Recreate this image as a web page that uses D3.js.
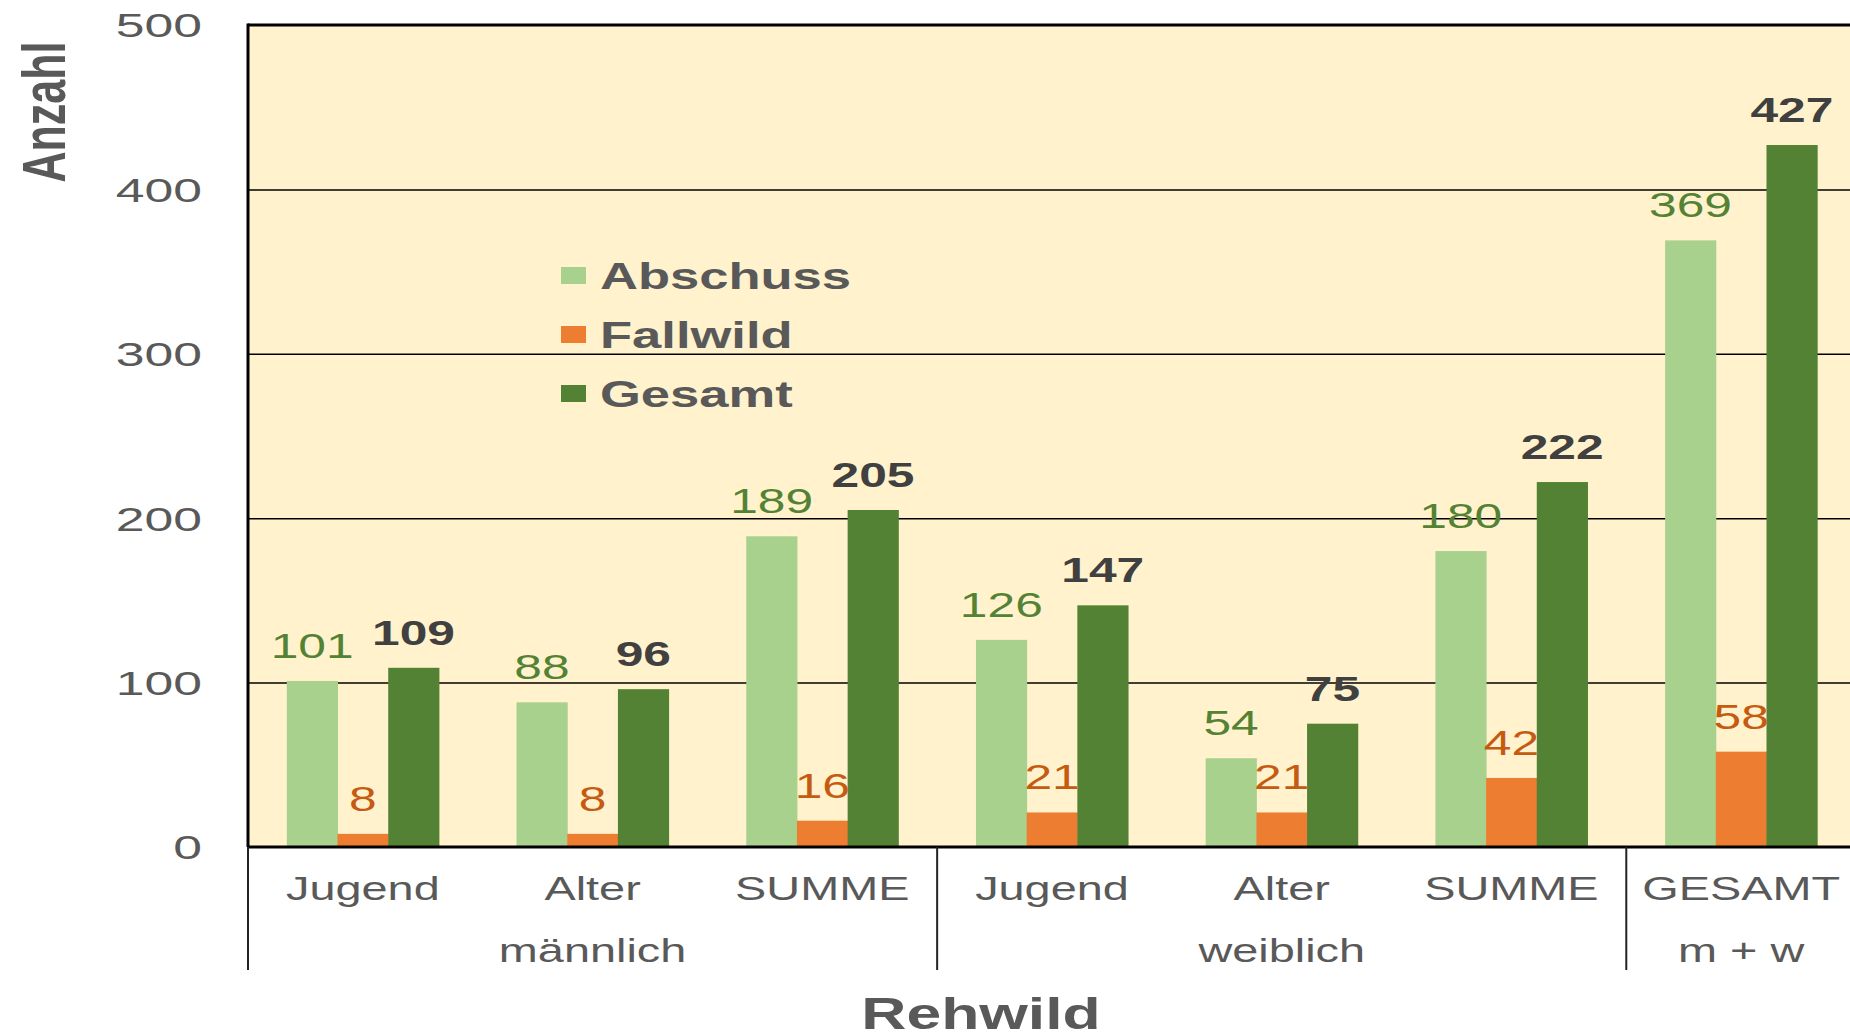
<!DOCTYPE html>
<html>
<head>
<meta charset="utf-8">
<script src="https://cdn.jsdelivr.net/npm/d3@7"></script>
<style>
  body { margin: 0; background: #fff; }
  svg { display: block; font-family: "Liberation Sans", Arial, sans-serif; }
</style>
</head>
<body>
<div id="chart"></div>
<script>
// Daten
var categories = ["Jugend", "Alter", "SUMME", "Jugend", "Alter", "SUMME", "GESAMT"];
var groupLabels = ["männlich", "weiblich", "m + w"];
var groupSizes = [3, 3, 1];
var seriesNames = ["Abschuss", "Fallwild", "Gesamt"];
var abschuss = [101, 88, 189, 126, 54, 180, 369];
var fallwild = [8, 8, 16, 21, 21, 42, 58];
var gesamt = [109, 96, 205, 147, 75, 222, 427];
var yTicks = [0, 100, 200, 300, 400, 500];

var barColors = ["#a9d18e", "#ed7d31", "#548235"];
var labelColors = ["#548235", "#c55a11", "#404040"];
var labelWeights = ["normal", "normal", "bold"];
var textGrey = "#595959";
var SX = 1.42; // Text ist im Original horizontal gestreckt
var SX_TICK = 1.52;

var W = 1850, H = 1035;
var plotLeft = 248, plotRight = 1856, plotTop = 25, plotBottom = 847;

var svg = d3.select("#chart")
    .append("svg")
    .attr("width", W)
    .attr("height", H);

var x = d3.scaleBand()
    .domain(d3.range(categories.length))
    .range([plotLeft, plotRight])
    .paddingInner(0.338)
    .paddingOuter(0.169);

var xs = d3.scaleBand()
    .domain(d3.range(seriesNames.length))
    .range([0, x.bandwidth()]);

var y = d3.scaleLinear()
    .domain([0, 500])
    .range([plotBottom, plotTop]);

// gestreckter Text
function stretchedText(g, tx, ty, str, size, weight, color, anchor) {
  return g.append("text")
      .attr("transform", "translate(" + tx + "," + ty + ") scale(" + SX + ",1)")
      .attr("text-anchor", anchor || "middle")
      .style("font-size", size + "px")
      .style("font-weight", weight || "normal")
      .attr("fill", color || textGrey)
      .text(str);
}

// Hintergrund der Zeichenfläche
svg.append("rect")
    .attr("x", plotLeft)
    .attr("y", plotTop)
    .attr("width", plotRight - plotLeft)
    .attr("height", plotBottom - plotTop)
    .attr("fill", "#fff2cc");

// Gitterlinien
var grid = svg.append("g")
    .attr("transform", "translate(" + plotLeft + ",0)")
    .call(d3.axisLeft(y).tickValues(yTicks.slice(1, -1)).tickSize(-(plotRight - plotLeft)).tickFormat(""));
grid.select(".domain").remove();
grid.selectAll("line").attr("stroke", "#000").attr("stroke-width", 1.5);

// Achsenbeschriftung y
var yAxis = svg.append("g")
    .attr("transform", "translate(" + plotLeft + ",0)")
    .call(d3.axisLeft(y).tickValues(yTicks).tickSize(0).tickPadding(46));
yAxis.select(".domain").remove();
yAxis.selectAll("text")
    .attr("x", -46 / SX_TICK)
    .attr("dy", "0.35em")
    .attr("transform", "scale(" + SX_TICK + ",1)")
    .style("font-size", "34px")
    .style("font-family", "\"Liberation Sans\", Arial, sans-serif")
    .attr("fill", textGrey);

// Balken
var series = [abschuss, fallwild, gesamt];
var cat = svg.selectAll(".cat")
    .data(d3.range(categories.length))
    .enter()
    .append("g")
    .attr("class", "cat")
    .attr("transform", function(i) { return "translate(" + x(i) + ",0)"; });

cat.selectAll("rect")
    .data(function(i) { return series.map(function(s, k) { return {k: k, v: s[i]}; }); })
    .enter()
    .append("rect")
    .attr("x", function(d) { return xs(d.k); })
    .attr("y", function(d) { return y(d.v); })
    .attr("width", xs.bandwidth() + 0.5)
    .attr("height", function(d) { return y(0) - y(d.v); })
    .attr("fill", function(d) { return barColors[d.k]; });

// Werte
cat.each(function(i) {
  var g = d3.select(this);
  series.forEach(function(s, k) {
    stretchedText(g, xs(k) + xs.bandwidth() / 2, y(s[i]) - 23, s[i], 35,
                  labelWeights[k], labelColors[k]);
  });
});

// Rahmen: oben, links, unten
svg.append("line").attr("x1", plotLeft).attr("x2", plotRight).attr("y1", plotTop).attr("y2", plotTop)
    .attr("stroke", "#000").attr("stroke-width", 3);
svg.append("line").attr("x1", plotLeft).attr("x2", plotLeft).attr("y1", plotTop - 1.5).attr("y2", plotBottom)
    .attr("stroke", "#000").attr("stroke-width", 3);
svg.append("line").attr("x1", plotLeft).attr("x2", plotRight).attr("y1", plotBottom).attr("y2", plotBottom)
    .attr("stroke", "#000").attr("stroke-width", 3);

// Kategorien
var xLab = svg.append("g");
categories.forEach(function(c, i) {
  stretchedText(xLab, x(i) + x.bandwidth() / 2, 900, c, 33, "normal", textGrey);
});

// Gruppen mit Trennstrichen
var start = 0;
groupSizes.forEach(function(n, gi) {
  var x0 = x(start) - x.step() * x.paddingInner() / 2;
  var x1 = x0 + n * x.step();
  xLab.append("line")
      .attr("x1", x0).attr("x2", x0)
      .attr("y1", plotBottom).attr("y2", 970)
      .attr("stroke", "#222").attr("stroke-width", 2);
  stretchedText(xLab, (x0 + x1) / 2, 962, groupLabels[gi], 33, "normal", textGrey);
  start += n;
  if (gi === groupSizes.length - 1) {
    xLab.append("line")
        .attr("x1", x1).attr("x2", x1)
        .attr("y1", plotBottom).attr("y2", 970)
        .attr("stroke", "#222").attr("stroke-width", 2);
  }
});

// Achsentitel
stretchedText(svg, 981, 1029, "Rehwild", 44, "bold", textGrey);
svg.append("text")
    .attr("transform", "translate(65,112) scale(" + SX + ",1) rotate(-90)")
    .attr("text-anchor", "middle")
    .style("font-size", "43px")
    .style("font-weight", "bold")
    .attr("fill", textGrey)
    .text("Anzahl");

// Legende
var legend = svg.append("g");
seriesNames.forEach(function(name, k) {
  var cy = 275.5 + k * 59;
  legend.append("rect")
      .attr("x", 561)
      .attr("y", cy - 8.5)
      .attr("width", 25)
      .attr("height", 17)
      .attr("fill", barColors[k]);
  stretchedText(legend, 600, cy + 13, name, 37, "bold", textGrey, "start");
});
</script>
</body>
</html>
